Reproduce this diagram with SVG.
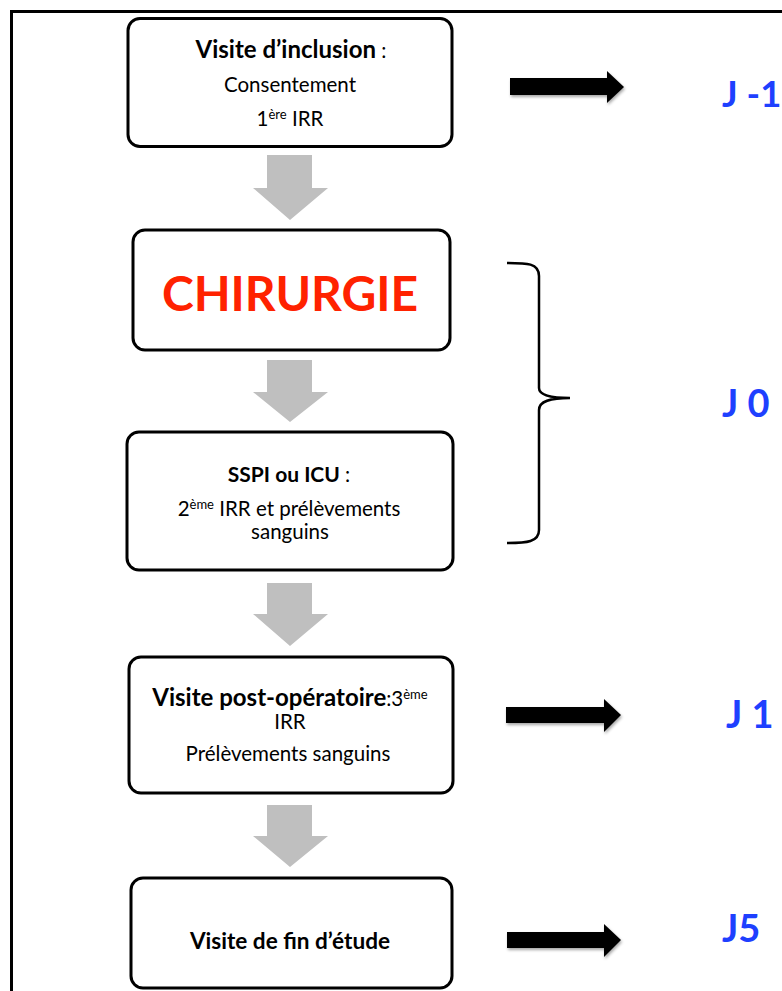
<svg xmlns="http://www.w3.org/2000/svg" width="782" height="991" viewBox="0 0 782 991">
<defs>
<style>
.box{fill:#fff;stroke:#000;stroke-width:3}
.t{font-family:Lato,"Open Sans",sans-serif;font-size:20.5px;fill:#000;text-anchor:middle}
.b{font-weight:bold}
.sup{font-size:13px}
.j{font-family:Lato,"Open Sans",sans-serif;font-weight:bold;font-size:38px;fill:#1e40ff}
.gray{fill:#bfbfbf}
.blk{fill:#000;filter:url(#sh)}
</style>
<filter id="sh" x="-20%" y="-30%" width="140%" height="170%">
<feDropShadow dx="1" dy="2" stdDeviation="1.5" flood-color="#000" flood-opacity="0.35"/>
</filter>
</defs>
<rect width="782" height="991" fill="#fff"/>
<path d="M11.5 991 V11.5 H782" fill="none" stroke="#000" stroke-width="3"/>
<g id="connectors">
<polygon class="gray" points="267,155 312,155 312,188 328,188 290,220 253,188 267,188"/>
<polygon class="gray" points="267,360 312,360 312,392 328,392 290,422 253,392 267,392"/>
<polygon class="gray" points="267,583 312,583 312,614 328,614 290,646 253,614 267,614"/>
<polygon class="gray" points="267,805 312,805 312,836 328,836 290,867 253,836 267,836"/>
<polygon class="blk" points="510,78 607,78 607,71 624,87 607,103 607,95 510,95"/>
<polygon class="blk" points="506,707 604,707 604,699 621,715 604,732 604,723 506,723"/>
<polygon class="blk" points="507,932 604,932 604,924 621,940 604,957 604,948 507,948"/>
<path d="M507,263 C527,263 539,263 539,276 V388 C539,395 550,398 570,398 C550,398 539,401 539,410 V530 C539,542 527,543 507,543" fill="none" stroke="#000" stroke-width="2.5"/>
</g>
<g id="n1">
<rect class="box" x="128" y="18.5" width="324" height="128" rx="12"/>
<text class="t" x="291" y="58"><tspan class="b" style="font-size:24px">Visite d’inclusion</tspan> :</text>
<text class="t" x="290" y="92">Consentement</text>
<text class="t" x="290" y="126">1<tspan class="sup" dy="-7">ère</tspan><tspan dy="7"> IRR</tspan></text>
</g>
<g id="n2">
<rect class="box" x="133" y="230" width="317" height="120" rx="12"/>
<text x="290" y="311" style="font-family:Lato,'Open Sans',sans-serif;font-weight:bold;font-size:48px;fill:#ff2200;text-anchor:middle">CHIRURGIE</text>
</g>
<g id="n3">
<rect class="box" x="127" y="432" width="326" height="138" rx="12"/>
<text class="t" x="289" y="482"><tspan class="b" style="font-size:21px">SSPI ou ICU</tspan> :</text>
<text class="t" x="289" y="516">2<tspan class="sup" dy="-7">ème</tspan><tspan dy="7"> IRR et prélèvements</tspan></text>
<text class="t" x="290" y="539">sanguins</text>
</g>
<g id="n4">
<rect class="box" x="129" y="657" width="324" height="136" rx="12"/>
<text class="t" x="290" y="706"><tspan class="b" style="font-size:24px">Visite post-opératoire</tspan>:3<tspan class="sup" dy="-7">ème</tspan></text>
<text class="t" x="290" y="729">IRR</text>
<text class="t" x="288" y="761">Prélèvements sanguins</text>
</g>
<g id="n5">
<rect class="box" x="131" y="878" width="321" height="110" rx="12"/>
<text class="t b" x="290" y="949" style="font-size:22.6px">Visite de fin d’étude</text>
</g>
<g id="labels">
<text class="j" x="722" y="107" style="font-size:36.5px">J -1</text>
<text class="j" x="722" y="417">J 0</text>
<text class="j" x="726" y="728">J 1</text>
<text class="j" x="722" y="942">J5</text>
</g>
</svg>
